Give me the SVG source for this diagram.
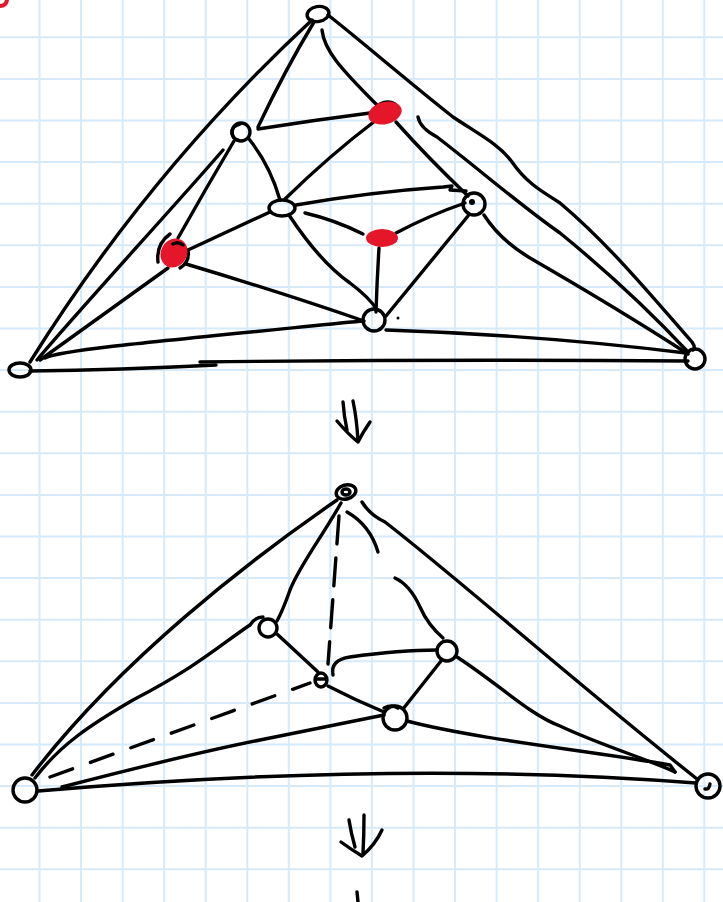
<svg xmlns="http://www.w3.org/2000/svg" width="723" height="902" viewBox="0 0 723 902">
<defs>
<style>
.grid{stroke:#d6eaf9;stroke-width:2;fill:none}
.ln{stroke:#000;stroke-width:3.4;fill:none;stroke-linecap:round;stroke-linejoin:round}
.dash1{stroke-dasharray:28 14}
.dash2{stroke-dasharray:24 19}
.nd{stroke:#000;stroke-width:3.4;fill:none}
.red{fill:#e5152a;stroke:none}
</style>
</defs>
<rect width="723" height="902" fill="#fff"/>
<g id="grid" class="grid">
<path d="M39.5,0V902M81,0V902M122.6,0V902M164.2,0V902M205.7,0V902M247.3,0V902M288.8,0V902M330.4,0V902M371.9,0V902M413.5,0V902M455,0V902M496.6,0V902M538.1,0V902M579.7,0V902M621.2,0V902M662.8,0V902M704.3,0V902"/>
<path d="M0,37.3H723M0,78.9H723M0,120.5H723M0,162.1H723M0,203.7H723M0,245.3H723M0,286.9H723M0,328.5H723M0,370.1H723M0,411.7H723M0,453.3H723M0,494.9H723M0,536.5H723M0,578.1H723M0,619.7H723M0,661.3H723M0,702.9H723M0,744.5H723M0,786.1H723M0,827.7H723M0,869.3H723"/>
</g>
<path d="M0,6 Q6,6 7,0" stroke="#e5152a" stroke-width="4" fill="none" stroke-linecap="round"/>
<g id="connectors">
<!-- top graph -->
<path class="ln" d="M312,20 Q150,170 30,362"/>
<path class="ln" d="M314,22 Q285,70 258,127"/>
<path class="ln" d="M258,129 Q315,120 370,113"/>
<path class="ln" d="M322,30 C324,50 340,68 378,106"/>
<path class="ln" d="M396,122 Q430,160 468,196"/>
<path class="ln" d="M328,15 C360,40 400,75 453,117 C480,135 500,145 512,162 C528,185 545,193 560,203 C610,245 655,300 692,342 Q696,348 693,350"/>
<path class="ln" d="M418,117 Q420,128 437,137 C480,170 520,205 560,233 Q630,290 688,352"/>
<path class="ln" d="M484,215 Q500,240 530,258 Q620,310 688,354"/>
<path class="ln" d="M386,330 Q540,335 686,353"/>
<path class="ln" d="M30,371 Q120,370 216,365"/>
<path class="ln" d="M200,362 Q450,359 688,361"/>
<path class="ln" d="M45,358 C60,350 150,342 362,321"/>
<path class="ln" d="M40,360 Q110,310 168,268"/>
<path class="ln" d="M37,360 C70,320 180,200 223,150"/>
<path class="ln" d="M234,141 Q205,190 178,238"/>
<path class="ln" d="M188,250 L270,212"/>
<path class="ln" d="M249,139 Q270,165 280,200"/>
<path class="ln" d="M285,199 Q330,155 375,121"/>
<path class="ln" d="M296,205 Q370,192 443,187 L452,186 L450,190 L466,191"/>
<path class="ln" d="M305,213 Q335,220 363,234"/>
<path class="ln" d="M396,233 Q430,215 465,203"/>
<path class="ln" d="M379,248 Q377,280 376,312"/>
<path class="ln" d="M289,215 Q320,262 350,283 Q370,298 377,310"/>
<path class="ln" d="M186,264 Q280,292 364,321"/>
<path class="ln" d="M468,216 L386,316"/>
<!-- bottom graph -->
<path class="ln" d="M337,500 C250,560 120,660 32,775"/>
<path class="ln" d="M341,503 C320,540 300,565 290,590 Q283,610 277,621"/>
<path class="ln" d="M263,617 Q255,617 250,625 C220,645 200,665 133,700 C90,725 60,745 35,778"/>
<path class="ln dash1" d="M339,516 L328,664"/>
<path class="ln dash2" d="M50,777 L310,683"/>
<path class="ln" d="M277,634 L318,672"/>
<path class="ln" d="M328,686 Q355,700 384,712"/>
<path class="ln" d="M333,675 Q330,660 350,657 Q400,650 437,650"/>
<path class="ln" d="M441,661 L403,709"/>
<path class="ln" d="M347,512 Q370,525 378,552"/>
<path class="ln" d="M395,578 Q410,585 420,607 Q428,625 443,638"/>
<path class="ln" d="M362,502 Q370,515 385,522 C460,580 560,670 697,779"/>
<path class="ln" d="M457,657 C500,685 530,715 560,726 C600,745 650,760 675,772"/>
<path class="ln" d="M407,721 C480,740 600,752 670,765 L675,772"/>
<path class="ln" d="M62,787 C120,772 200,752 260,740 Q320,728 384,715"/>
<path class="ln" d="M38,791 Q400,760 696,783"/>
<!-- arrows -->
<path class="ln" d="M343,402 Q344,416 347,430 M353,401 Q357,420 358,442 M337,421 Q348,434 358,442 Q363,432 370,422"/>
<path class="ln" d="M349,820 Q351,833 355,847 M364,815 Q364,835 363,853 M341,842 Q352,850 362,856 Q375,845 382,830"/>
<path class="ln" d="M357,892 L358,902"/>
</g>
<g id="T"><ellipse class="nd" cx="318" cy="14" rx="11" ry="7.5" transform="rotate(-10 318 14)"/></g>
<g id="L"><ellipse class="nd" cx="20" cy="370" rx="11" ry="7"/></g>
<g id="R"><circle class="nd" cx="695" cy="359" r="10"/></g>
<g id="A"><circle class="nd" cx="241" cy="132" r="9"/><path class="ln" d="M240,124 Q231,126 232,134 Q234,140 238,140"/></g>
<g id="B"><path class="ln" d="M380,104 Q388,100 395,104"/><ellipse class="red" cx="385" cy="113" rx="17" ry="11" transform="rotate(-15 385 113)"/></g>
<g id="C"><ellipse class="nd" cx="282" cy="208" rx="13" ry="8"/></g>
<g id="D"><circle class="nd" cx="474" cy="204" r="11"/><circle cx="472" cy="202" r="3"/></g>
<g id="E"><ellipse class="red" cx="382" cy="238" rx="16" ry="9"/></g>
<g id="F"><path class="ln" d="M170,234 Q156,244 158,262"/><path class="ln" d="M180,268 Q190,262 188,250"/><ellipse class="red" cx="174" cy="253" rx="13" ry="15" transform="rotate(30 174 253)"/><path class="ln" d="M173,244 Q178,241 183,245"/></g>
<g id="G"><circle class="nd" cx="374" cy="320" r="11"/><circle cx="398" cy="318" r="1.5"/></g>
<g id="T2"><ellipse class="nd" cx="346" cy="492" rx="10" ry="7" transform="rotate(-15 346 492)"/><ellipse class="nd" cx="346" cy="492" rx="4" ry="3"/></g>
<g id="L2"><circle class="nd" cx="25" cy="790" r="12"/></g>
<g id="R2"><circle class="nd" cx="708" cy="786" r="12"/><path class="ln" d="M705,789 Q709,790 710,784"/></g>
<g id="A2"><circle class="nd" cx="268" cy="628" r="9"/></g>
<g id="C2"><ellipse class="nd" cx="321" cy="680" rx="6" ry="7"/><path class="ln" d="M316,679 L326,679"/></g>
<g id="D2"><circle class="nd" cx="447" cy="651" r="10"/></g>
<g id="G2"><circle class="nd" cx="395" cy="718" r="12"/><path class="ln" d="M384,708 Q392,704 398,708"/></g>
</svg>
